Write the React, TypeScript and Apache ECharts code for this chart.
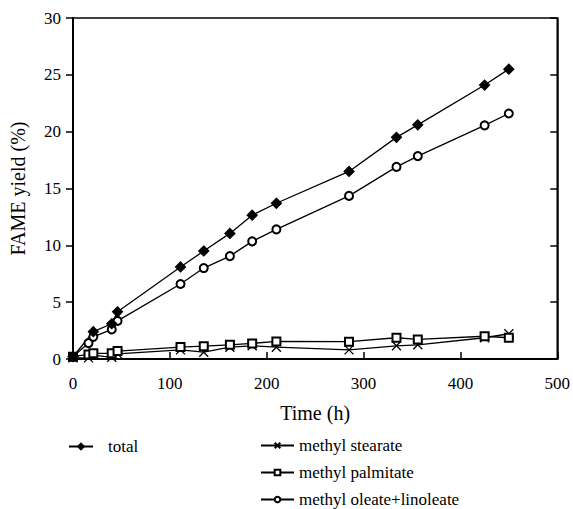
import React, { useEffect, useRef } from "react";
import * as echarts from "echarts";

const timesTotal = [0, 21, 40, 46, 111, 135, 162, 185, 210, 285, 334, 356, 425, 450];
const totalYield = [0.2, 2.4, 3.1, 4.15, 8.1, 9.5, 11.05, 12.65, 13.7, 16.5, 19.5, 20.6, 24.1, 25.5];

const timesComp = [0, 16, 21, 40, 46, 111, 135, 162, 185, 210, 285, 334, 356, 425, 450];
const stearateYield = [0.1, 0.1, 0.35, 0.15, 0.45, 0.8, 0.6, 1.04, 1.16, 1.04, 0.8, 1.16, 1.25, 1.87, 2.22];
const palmitateYield = [0.2, 0.4, 0.5, 0.5, 0.7, 1.05, 1.13, 1.25, 1.37, 1.55, 1.52, 1.87, 1.72, 2.0, 1.87];
const oleateYield = [0.2, 1.4, 1.95, 2.6, 3.35, 6.6, 8.0, 9.05, 10.35, 11.4, 14.35, 16.9, 17.85, 20.55, 21.6];

const xTicks = [0, 100, 200, 300, 400, 500];
const yTicks = [0, 5, 10, 15, 20, 25, 30];

const FONT = "'Liberation Serif', 'Times New Roman', serif";

const pair = (xs: number[], ys: number[]) => xs.map((x, i) => [x, ys[i]]);

export default function App() {
  const ref = useRef<HTMLDivElement>(null);
  useEffect(() => {
    if (!ref.current) return;
    const chart = echarts.init(ref.current, undefined, { renderer: "svg" });
    const lineBase = {
      type: "line" as const,
      lineStyle: { color: "#000", width: 1.3 },
      itemStyle: { color: "#000", borderColor: "#000", borderWidth: 1.2 },
      emphasis: { disabled: true },
    };
    const legendText = { fontFamily: FONT, fontSize: 17, color: "#000" };
    const compLegend = (name: string, top: number) => ({
      data: [name],
      left: 255,
      top,
      itemWidth: 33,
      itemHeight: 7,
      selectedMode: false,
      textStyle: legendText,
    });
    chart.setOption({
      animation: false,
      backgroundColor: "#fff",
      textStyle: { fontFamily: FONT, color: "#000" },
      grid: {
        left: 73,
        right: 15,
        top: 18,
        bottom: 150,
        show: true,
        borderColor: "#000",
        borderWidth: 1.5,
        backgroundColor: "transparent",
      },
      xAxis: {
        type: "value",
        min: xTicks[0],
        max: xTicks[xTicks.length - 1],
        interval: 100,
        name: "Time (h)",
        nameLocation: "middle",
        nameGap: 44,
        nameTextStyle: { fontFamily: FONT, fontSize: 20, color: "#000" },
        axisLine: { show: true, lineStyle: { color: "#000", width: 2 } },
        axisTick: { show: true, inside: true, length: 7, lineStyle: { color: "#000", width: 1.5 } },
        axisLabel: { fontFamily: FONT, fontSize: 17, color: "#000", margin: 16 },
        splitLine: { show: false },
      },
      yAxis: [
        {
          type: "value",
          min: yTicks[0],
          max: yTicks[yTicks.length - 1],
          interval: 5,
          name: "FAME yield (%)",
          nameLocation: "middle",
          nameGap: 45,
          nameTextStyle: { fontFamily: FONT, fontSize: 20, color: "#000" },
          axisLine: { show: true, lineStyle: { color: "#000", width: 2 } },
          axisTick: { show: true, inside: false, length: 7, lineStyle: { color: "#000", width: 1.5 } },
          axisLabel: { fontFamily: FONT, fontSize: 17, color: "#000", margin: 12 },
          splitLine: { show: false },
        },
        {
          type: "value",
          position: "right",
          min: yTicks[0],
          max: yTicks[yTicks.length - 1],
          interval: 5,
          axisLine: { show: true, lineStyle: { color: "#000", width: 1.5 } },
          axisTick: { show: true, inside: true, length: 7, lineStyle: { color: "#000", width: 1.5 } },
          axisLabel: { show: false },
          splitLine: { show: false },
        },
      ],
      legend: [
        {
          data: ["total"],
          left: 63,
          top: 433,
          itemWidth: 24,
          itemHeight: 7,
          selectedMode: false,
          textStyle: { ...legendText, padding: [0, 0, 0, 10] },
        },
        compLegend("methyl stearate", 432),
        compLegend("methyl palmitate", 459),
        compLegend("methyl oleate+linoleate", 486),
      ],
      series: [
        {
          ...lineBase,
          name: "methyl stearate",
          data: pair(timesComp, stearateYield),
          symbol: "path://M0,0L10,10M0,10L10,0",
          symbolSize: 9,
          itemStyle: { color: "#000", borderColor: "#000", borderWidth: 1.3 },
        },
        {
          ...lineBase,
          name: "methyl palmitate",
          data: pair(timesComp, palmitateYield),
          symbol: "emptyRect",
          symbolSize: 8,
        },
        {
          ...lineBase,
          name: "methyl oleate+linoleate",
          data: pair(timesComp, oleateYield),
          symbol: "emptyCircle",
          symbolSize: 8,
        },
        {
          ...lineBase,
          name: "total",
          data: pair(timesTotal, totalYield),
          symbol: "diamond",
          symbolSize: 10,
        },
      ],
    });
    return () => chart.dispose();
  }, []);
  return <div ref={ref} style={{ width: 573, height: 509, position: "absolute", left: 0, top: 0 }} />;
}
